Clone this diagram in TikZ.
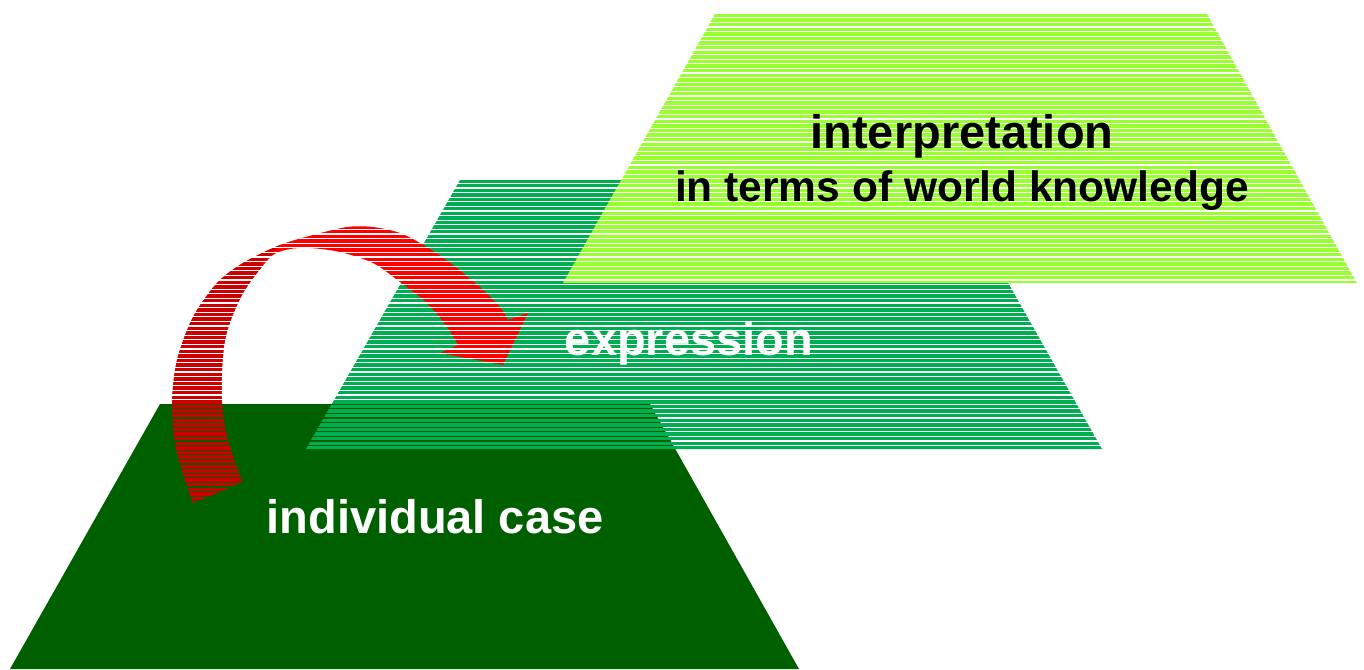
\documentclass[tikz,border=0pt]{standalone}
\usepackage{fontspec}
\setmainfont{Liberation Sans}
\definecolor{toplevel}{RGB}{153,255,51}
\definecolor{midlevel}{RGB}{0,173,80}
\definecolor{baselevel}{RGB}{0,96,0}
\definecolor{arrowred}{RGB}{255,0,0}
\definecolor{arrowdark}{RGB}{204,0,0}
\newcommand\hstripes[1]{\foreach \y in {0,4.6,...,669} \draw[#1,line width=3.4] (0,\y+1.7) -- (1364,\y+1.7);}
\begin{document}
\begin{tikzpicture}[x=1pt,y=-1pt,
            leveltext/.style = {font=\bfseries\fontsize{47}{50}\selectfont, anchor=base},
            smalltext/.style = {font=\bfseries\fontsize{42.5}{46}\selectfont, anchor=base}]
            \useasboundingbox (0,0) rectangle (1364,669);
            % individual case
            \fill[baselevel] (160,404) -- (650,404) -- (799,669) -- (10,669) -- cycle;
            % expression
            \begin{scope}
                \clip (460,180) -- (950,180) -- (1102,449) -- (306,449) -- cycle;
                \hstripes{midlevel}
            \end{scope}
            % interpretation
            \begin{scope}
                \clip (715,14) -- (1207,14) -- (1357,283) -- (563,283) -- cycle;
                \hstripes{toplevel}
            \end{scope}
            % arrow
            \begin{scope}
                \clip plot[smooth] coordinates {(193,503) (183,473) (175,443) (172,403) (177,360) (193,317) (217,283) (243,263) (280,245) (313,235) (347,227) (373,227) (400,233) (427,247) (453,265) (480,287) (500,307) (508,320)}
                    -- (528,313) -- (503,365) -- (440,353)
                    -- plot[smooth] coordinates {(458,345) (447,327) (427,303) (400,282) (373,263) (340,252) (310,248) (290,249) (273,255) (257,273) (243,293) (232,317) (225,340) (222,370) (222,403) (227,437) (242,482)}
                    -- cycle;
                \hstripes{arrowred}
                \clip (0,0) -- (300,0) -- (300,224) -- (262,264) -- (262,669) -- (0,669) -- cycle;
                \hstripes{arrowdark}
            \end{scope}
            \node[leveltext] (interp) at (962,148) {interpretation};
            \node[smalltext] (world) at (962,201) {in terms of world knowledge};
            \node[leveltext, text=white] (expr) at (689,355) {expression};
            \node[leveltext, text=white] (case) at (435,533) {individual case};
        \end{tikzpicture}
\end{document}
